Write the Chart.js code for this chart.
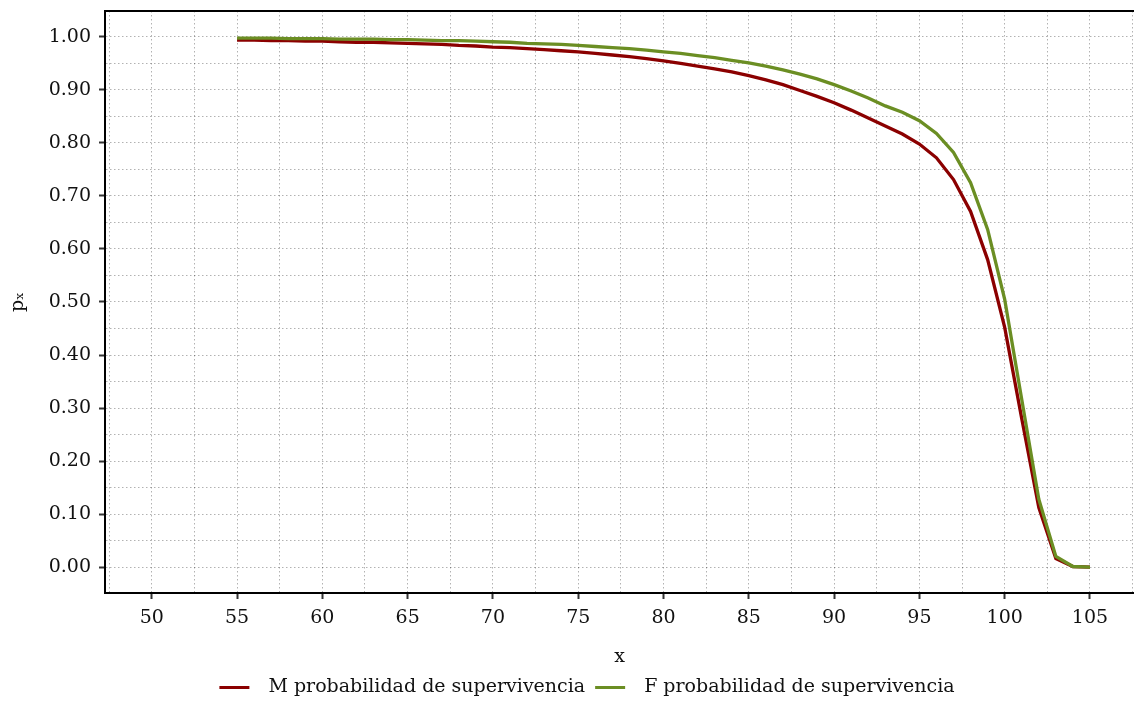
<!DOCTYPE html>
<html>
<head>
<meta charset="utf-8">
<script src="https://cdn.jsdelivr.net/npm/chart.js@4"></script>
<style>
  html, body { margin: 0; padding: 0; background: #fff; }
  #wrap { width: 1134px; height: 726px; }
</style>
</head>
<body>
<div id="wrap"><canvas id="myChart"></canvas></div>
<script>
// edades 55..105
const ages = [55,56,57,58,59,60,61,62,63,64,65,66,67,68,69,70,71,72,73,74,75,76,77,78,79,80,
  81,82,83,84,85,86,87,88,89,90,91,92,93,94,95,96,97,98,99,100,101,102,103,104,105];

const survM = [0.994,0.994,0.993,0.993,0.992,0.992,0.991,0.990,0.990,0.989,0.988,0.987,0.986,0.984,0.983,
  0.981,0.980,0.978,0.976,0.974,0.972,0.969,0.966,0.963,0.959,0.955,0.950,0.945,0.940,0.934,
  0.927,0.919,0.910,0.899,0.888,0.876,0.862,0.847,0.832,0.817,0.798,0.772,0.731,0.671,0.580,
  0.452,0.280,0.112,0.016,0.001,0.000];

const survF = [0.998,0.998,0.998,0.997,0.997,0.997,0.996,0.996,0.996,0.995,0.995,0.994,0.993,0.993,0.992,
  0.991,0.990,0.988,0.987,0.986,0.984,0.982,0.980,0.978,0.975,0.972,0.969,0.965,0.961,0.956,
  0.951,0.945,0.938,0.930,0.921,0.910,0.898,0.885,0.870,0.858,0.842,0.818,0.782,0.725,0.637,
  0.505,0.316,0.128,0.020,0.001,0.000];

const seriesLabels = ['M probabilidad de supervivencia', 'F probabilidad de supervivencia'];
const xBreaks = [50,55,60,65,70,75,80,85,90,95,100,105];
const yBreaks = [0,0.1,0.2,0.3,0.4,0.5,0.6,0.7,0.8,0.9,1.0];

const FONT = 'DejaVu Serif';
const FSIZE = 19;
const gridColor = 'rgba(0,0,0,0.3)';

// menores a mitad de camino entre los cortes
const withMinor = (breaks, from, to) => {
    const step = (breaks[1] - breaks[0]) / 2;
    const out = [];
    for (let v = from; v <= to + 1e-9; v += step) out.push(+v.toFixed(4));
    return out;
};
const isMajor = (v, breaks) => breaks.some(b => Math.abs(b - v) < 1e-6);

const topLine = {
    id: 'topLine',
    afterDraw(chart) {
        const {ctx, chartArea} = chart;
        ctx.save();
        ctx.strokeStyle = '#000';
        ctx.lineWidth = 2;
        ctx.beginPath();
        ctx.moveTo(chartArea.left - 1, chartArea.top);
        ctx.lineTo(chartArea.right, chartArea.top);
        ctx.stroke();
        ctx.restore();
    }
};

// la leyenda va algo desplazada a la derecha
const legendShift = {
    id: 'legendShift',
    afterLayout(chart) {
        if (chart.legend) {
            chart.legend.left += 20;
            chart.legend.right += 20;
        }
    }
};

const ctx = document.getElementById('myChart').getContext('2d');
const myChart = new Chart(ctx, {
    type: 'line',
    data: {
        datasets: [{
            label: seriesLabels[0],
            data: ages.map((a, i) => ({x: a, y: survM[i]})),
            borderColor: '#8B0000',
            backgroundColor: '#8B0000',
            borderWidth: 3.3,
            pointRadius: 0,
            tension: 0,
            order: 1
        }, {
            label: seriesLabels[1],
            data: ages.map((a, i) => ({x: a, y: survF[i]})),
            borderColor: '#6B8E23',
            backgroundColor: '#6B8E23',
            borderWidth: 3.3,
            pointRadius: 0,
            tension: 0,
            order: 0
        }]
    },
    options: {
        responsive: true,
        maintainAspectRatio: false,
        animation: false,
        layout: { padding: { left: 0, right: 0, top: 11, bottom: 19 } },
        plugins: {
            tooltip: { enabled: false },
            legend: {
                position: 'bottom',
                labels: {
                    font: { family: FONT, size: FSIZE },
                    color: '#111',
                    boxWidth: 30,
                    boxHeight: 3,
                    padding: 10,
                    sort: (a, b) => a.datasetIndex - b.datasetIndex,
                    generateLabels: (chart) => {
                        const items = Chart.defaults.plugins.legend.labels.generateLabels(chart);
                        items.forEach(it => {
                            it.lineWidth = 0;
                            it.text = '\u2002' + it.text;   // hueco extra tras la muestra
                        });
                        return items;
                    }
                }
            }
        },
        scales: {
            x: {
                type: 'linear',
                min: 47.26,
                max: 107.58,
                afterBuildTicks: (scale) => {
                    scale.ticks = withMinor(xBreaks, 47.5, 107.5).map(v => ({value: v}));
                },
                afterFit: (scale) => {
                    scale.height = 75;
                    scale.paddingLeft = 0;
                    scale.paddingRight = 0;
                },
                ticks: {
                    autoSkip: false,
                    maxRotation: 0,
                    padding: 8,
                    color: '#111',
                    font: { family: FONT, size: FSIZE },
                    callback: (v) => isMajor(v, xBreaks) ? String(v) : ''
                },
                grid: {
                    color: gridColor,
                    lineWidth: 1,
                    tickLength: 6,
                    tickWidth: 2,
                    tickColor: (c) => (c.tick && isMajor(c.tick.value, xBreaks)) ? '#333' : 'rgba(0,0,0,0)'
                },
                border: { display: true, color: '#000', width: 2, dash: [1.5, 2.5] },
                title: {
                    display: true,
                    text: 'x',
                    color: '#111',
                    font: { family: FONT, size: FSIZE },
                    padding: { top: 0, bottom: 0 }
                }
            },
            y: {
                min: -0.049,
                max: 1.049,
                afterBuildTicks: (scale) => {
                    scale.ticks = withMinor(yBreaks, 0, 1.0).map(v => ({value: v}));
                },
                afterFit: (scale) => {
                    scale.width = 105;
                    scale.paddingTop = 0;
                    scale.paddingBottom = 0;
                },
                ticks: {
                    autoSkip: false,
                    padding: 8,
                    color: '#111',
                    font: { family: FONT, size: FSIZE },
                    callback: (v) => isMajor(v, yBreaks) ? v.toFixed(2) : ''
                },
                grid: {
                    color: gridColor,
                    lineWidth: 1,
                    tickLength: 6,
                    tickWidth: 2,
                    tickColor: (c) => (c.tick && isMajor(c.tick.value, yBreaks)) ? '#333' : 'rgba(0,0,0,0)'
                },
                border: { display: true, color: '#000', width: 2, dash: [1.5, 2.5] },
                title: {
                    display: true,
                    text: 'pₓ',
                    color: '#111',
                    font: { family: FONT, size: FSIZE },
                    padding: { top: 7, bottom: 0 }
                }
            }
        }
    },
    plugins: [topLine, legendShift]
});
</script>
</body>
</html>
